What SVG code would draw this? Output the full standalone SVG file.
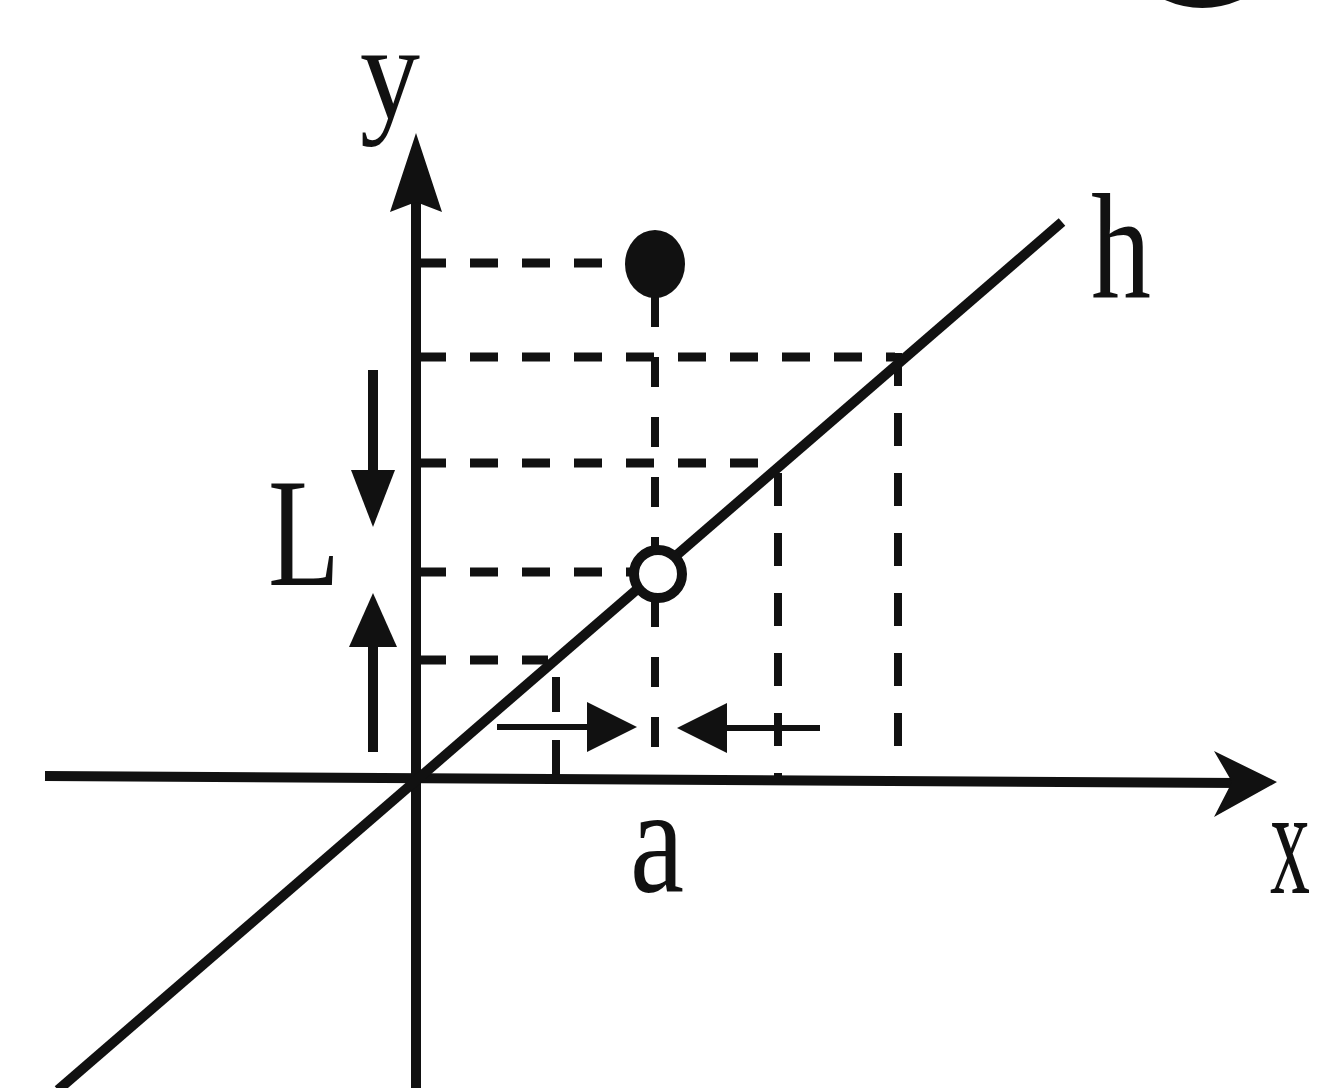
<svg xmlns="http://www.w3.org/2000/svg" width="1318" height="1088" viewBox="0 0 1318 1088">
<style>
.ax{stroke:#111;stroke-width:10;fill:none;stroke-linecap:butt}
.hd{stroke:#111;stroke-width:9;fill:none;stroke-dasharray:28 24}
.vd{stroke:#111;stroke-width:8;fill:none;stroke-dasharray:33 27}
.sh{stroke:#111;stroke-width:8;fill:none}
.head{fill:#111;stroke:none}
.lbl{font-family:"Liberation Serif","Times New Roman",serif;fill:#111}
</style>
<rect width="1318" height="1088" fill="#fff"/>
<g id="partial-mark">
<path d="M1165,0 Q1202,16 1240,0 Z" fill="#111"/>
</g>
<g id="guides">
<line class="hd" x1="418" y1="263" x2="612" y2="263"/>
<line class="hd" x1="418" y1="357" x2="895" y2="357"/>
<line class="hd" x1="418" y1="463" x2="775" y2="463"/>
<line class="hd" x1="418" y1="572" x2="632" y2="572"/>
<line class="hd" x1="418" y1="660" x2="548" y2="660"/>
<line class="vd" x1="655" y1="297" x2="655" y2="750" style="stroke-dasharray:30 30"/>
<line class="vd" x1="778" y1="473" x2="778" y2="780"/>
<line class="vd" x1="898" y1="353" x2="898" y2="748"/>
<line class="vd" x1="556" y1="677" x2="556" y2="778" style="stroke-dasharray:35 28"/>
</g>
<g id="axes">
<line class="ax" x1="45" y1="776" x2="1240" y2="783"/>
<polygon class="head" points="1277,782 1214,751 1232,782 1214,817"/>
<line class="ax" x1="416" y1="1088" x2="416" y2="195"/>
<polygon class="head" points="416,133 442,212 416,202 390,212"/>
</g>
<g id="line-h">
<line class="ax" x1="58" y1="1090" x2="1062" y2="222"/>
</g>
<g id="connectors">
<line class="sh" x1="497" y1="727" x2="592" y2="727" style="stroke-width:6"/>
<polygon class="head" points="637,727 587,702 587,752"/>
<line class="sh" x1="722" y1="728" x2="820" y2="728" style="stroke-width:6"/>
<polygon class="head" points="677,728 727,703 727,753"/>
<line class="sh" x1="373" y1="370" x2="373" y2="475" style="stroke-width:10"/>
<polygon class="head" points="373,527 351,470 395,470"/>
<line class="sh" x1="373" y1="642" x2="373" y2="752" style="stroke-width:10"/>
<polygon class="head" points="373,593 349,647 397,647"/>
</g>
<g id="point-filled">
<ellipse cx="655" cy="264" rx="30" ry="34" fill="#111"/>
</g>
<g id="point-open">
<circle cx="658" cy="574" r="24" fill="#fff" stroke="#111" stroke-width="10"/>
</g>
<g id="labels">
<text class="lbl" x="360" y="118" font-size="135" textLength="60" lengthAdjust="spacingAndGlyphs">y</text>
<text class="lbl" x="1091" y="297" font-size="150" textLength="60" lengthAdjust="spacingAndGlyphs">h</text>
<text class="lbl" x="268" y="585" font-size="154" textLength="72" lengthAdjust="spacingAndGlyphs">L</text>
<text class="lbl" x="630" y="892" font-size="152" textLength="54" lengthAdjust="spacingAndGlyphs">a</text>
<text class="lbl" x="1270" y="893" font-size="152" textLength="40" lengthAdjust="spacingAndGlyphs">x</text>
</g>
</svg>
